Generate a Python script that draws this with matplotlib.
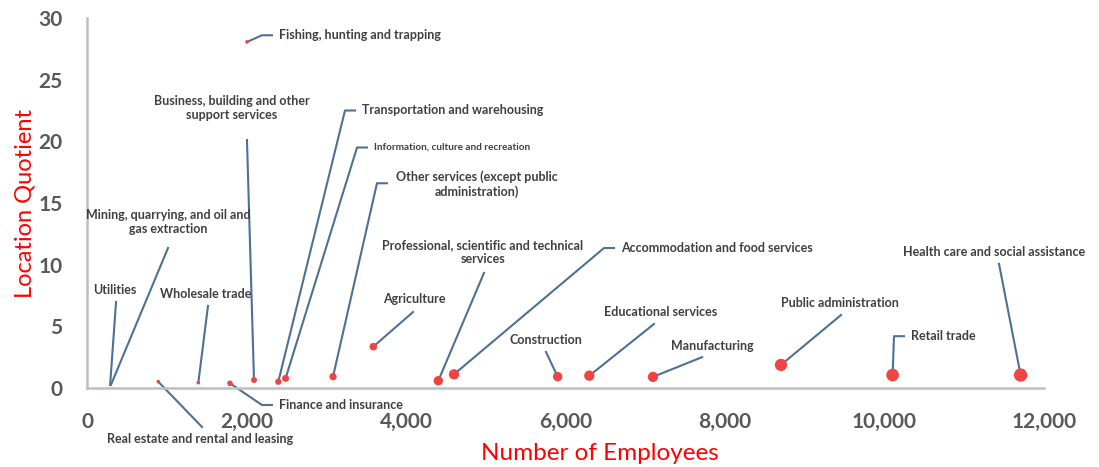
import matplotlib.pyplot as plt

# data: industries, employees (x), location quotient (y), bubble size (relative)
industries = [
    "Utilities", "Mining, quarrying, and oil and\ngas extraction",
    "Real estate and rental and leasing", "Wholesale trade",
    "Finance and insurance", "Fishing, hunting and trapping",
    "Business, building and other\nsupport services", "Transportation and warehousing",
    "Information, culture and recreation", "Other services (except public\nadministration)",
    "Agriculture", "Professional, scientific and technical\nservices",
    "Accommodation and food services", "Construction", "Educational services",
    "Manufacturing", "Public administration", "Retail trade",
    "Health care and social assistance",
]
employees = [290, 300, 894, 1396, 1793, 2006, 2094, 2399, 2490, 3085,
             3590, 4405, 4602, 5902, 6299, 7097, 8702, 10102, 11707]
location_quotient = [0.25, 0.25, 0.51, 0.43, 0.38, 28.06, 0.65, 0.51, 0.78, 0.92,
                     3.35, 0.59, 1.11, 0.92, 1.0, 0.9, 1.87, 1.05, 1.05]
bubble_size = [0.5, 0.5, 3, 3, 7, 3, 8, 9, 11, 12,
               13, 20, 24, 20, 24, 24, 34, 36, 40]

# label layout: (text x, text y, line end x, line end y, elbow style, font size)
label_layout = [
    (351, 7.95, 364, 6.97, False, 9),
    (1016, 13.5, 1016, 11.35, False, 9),
    (1417, -4.15, 1442, -3.16, False, 9),
    (1492, 7.6, 1517, 6.65, False, 9),
    (None, None, 2194, -1.38, True, 9),
    (None, None, 2194, 28.6, True, 9),
    (1818, 22.7, 2006, 20.1, False, 9),
    (None, None, 3235, 22.5, True, 9),
    (None, None, 3386, 19.5, True, 7.2),
    (4890, 16.5, 3636, 16.6, "elbow_center", 9),
    (4100, 7.2, 4088, 6.16, False, 9),
    (4966, 11.0, 4978, 9.33, False, 9),
    (None, None, 6483, 11.35, True, 9),
    (5755, 3.9, 5755, 2.92, False, 9),
    (7197, 6.16, 7110, 5.19, False, 9),
    (7837, 3.4, 7712, 2.5, False, 9),
    (9442, 6.9, 9455, 5.92, False, 9),
    (None, None, 10119, 4.2, True, 9),
    (11373, 11.0, 11436, 10.06, False, 9),
]

line_color = "#4E7193"
text_color = "#404040"

fig = plt.figure(figsize=(10.99, 4.67), dpi=100)
ax = fig.add_axes([87 / 1099, 79 / 467, 957 / 1099, 370 / 467])

ax.scatter(employees, location_quotient, s=[b * 2.3 for b in bubble_size],
           color="#F04343", zorder=3, linewidths=0)

for name, x, y, lay in zip(industries, employees, location_quotient, label_layout):
    tx, ty, ex, ey, style, fs = lay
    if style is True or style == "elbow_center":
        ax.plot([x, ex, ex + 125], [y, ey, ey], color=line_color, lw=1.5,
                clip_on=False, zorder=2)
        if style is True:
            ax.text(ex + 210, ey, name, ha="left", va="center", fontsize=fs,
                    fontweight="bold", color=text_color, family="Lato")
        else:
            ax.text(tx, ty, name, ha="center", va="center", fontsize=fs,
                    fontweight="bold", color=text_color, family="Lato",
                    linespacing=1.2)
    else:
        ax.plot([x, ex], [y, ey], color=line_color, lw=1.5, clip_on=False, zorder=2)
        ax.text(tx, ty, name, ha="center", va="center", fontsize=fs,
                fontweight="bold", color=text_color, family="Lato",
                linespacing=1.2)

ax.set_xlim(0, 12000)
ax.set_ylim(0, 30)
ax.set_xticks(range(0, 12001, 2000))
ax.set_yticks(range(0, 31, 5))
ax.set_xticklabels([f"{v:,}" for v in range(0, 12001, 2000)])
ax.tick_params(length=0, labelsize=15, labelcolor="#595959", pad=17.5)
for lbl in ax.get_xticklabels() + ax.get_yticklabels():
    lbl.set_fontweight("bold")
    lbl.set_family("Lato")

for side in ["top", "right"]:
    ax.spines[side].set_visible(False)
for side in ["left", "bottom"]:
    ax.spines[side].set_color("#BFBFBF")
    ax.spines[side].set_linewidth(1.8)

ax.set_xlabel("Number of Employees", color="red", fontsize=17.5, family="Lato", va="center")
ax.xaxis.set_label_coords(0.536, -0.178)
ax.set_ylabel("Location Quotient", color="red", fontsize=17, family="Lato", labelpad=2)

fig.savefig("out.png", dpi=100)
